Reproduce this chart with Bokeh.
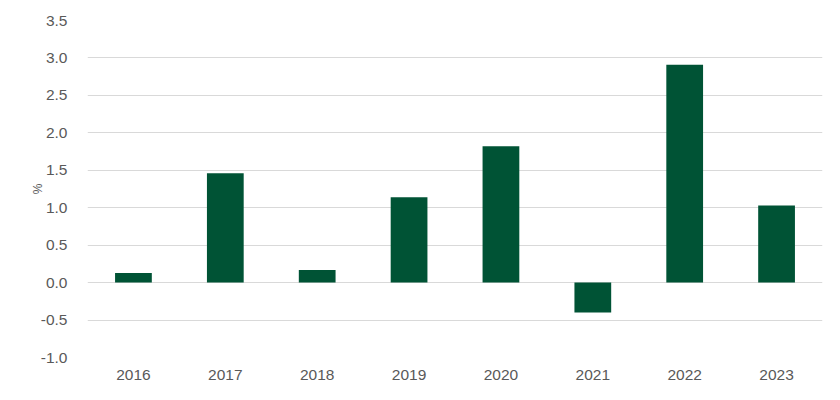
from bokeh.plotting import figure
from bokeh.models import FactorRange, Range1d, FixedTicker, NumeralTickFormatter, ColumnDataSource
from bokeh.embed import file_html
from bokeh.resources import INLINE

years = ["2016", "2017", "2018", "2019", "2020", "2021", "2022", "2023"]
values = [0.13, 1.46, 0.17, 1.14, 1.82, -0.40, 2.91, 1.03]
y_ticks = [-1.0, -0.5, 0.0, 0.5, 1.0, 1.5, 2.0, 2.5, 3.0, 3.5]

src = ColumnDataSource(dict(x=years, top=values))

p = figure(width=832, height=392, output_backend="svg", toolbar_location=None,
           x_range=FactorRange(*years, range_padding=0), y_range=Range1d(-1.0, 3.5),
           min_border_left=87, min_border_right=10, min_border_top=20, min_border_bottom=35)

p.vbar(x="x", top="top", bottom=0, width=0.4, source=src, color="#005335", line_color=None)

p.outline_line_color = None
p.background_fill_color = "white"
p.border_fill_color = "white"

p.xgrid.grid_line_color = None
p.ygrid.ticker = FixedTicker(ticks=y_ticks)
p.ygrid.grid_line_color = "#d9d9d9"
p.ygrid.grid_line_width = 1

p.yaxis.ticker = FixedTicker(ticks=y_ticks)
p.yaxis.formatter = NumeralTickFormatter(format="0.0")
p.yaxis.axis_label = "%"
p.yaxis.axis_label_text_font = "Liberation Sans"
p.yaxis.axis_label_text_font_size = "12px"
p.yaxis.axis_label_text_font_style = "normal"
p.yaxis.axis_label_text_color = "#595959"
p.yaxis.axis_label_standoff = -7

for ax in (p.xaxis, p.yaxis):
    ax.axis_line_color = None
    ax.major_tick_line_color = None
    ax.minor_tick_line_color = None
    ax.major_label_text_font = "Liberation Sans"
    ax.major_label_text_font_size = "15.5px"
    ax.major_label_text_color = "#595959"

p.yaxis.major_label_standoff = 14
p.xaxis.major_label_standoff = 6

open("out.html", "w").write(file_html(p, INLINE))
